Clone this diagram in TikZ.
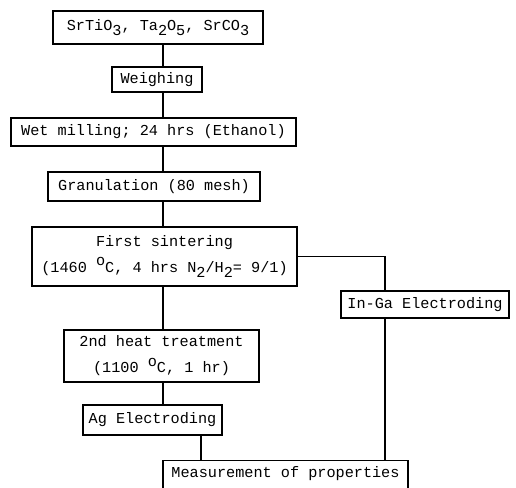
\documentclass[tikz,border=0pt]{standalone}
\usepackage{fontspec}
\setmainfont{Liberation Mono}
\newcommand{\lowr}[1]{\raisebox{-0.33em}{#1}}
\newcommand{\highr}[1]{\raisebox{0.45em}{#1}}
\begin{document}
\begin{tikzpicture}[x=1pt,y=-1pt,
  box/.style={draw, line width=1.1pt, inner sep=0pt, font=\fontsize{15.2}{26}\selectfont, align=center},
  link/.style={line width=1.1pt}]
\useasboundingbox (0,0) rectangle (516,487);
\fill[white] (0,0) rectangle (516,487);
\node[box, minimum width=210pt, minimum height=33pt] (src) at (158,27.5) {SrTiO\lowr{3}, Ta\lowr{2}O\lowr{5}, SrCO\lowr{3}};
\node[box, minimum width=90pt, minimum height=25pt] (weigh) at (157,79.5) {Weighing};
\node[box, minimum width=285pt, minimum height=28pt] (wet) at (153.5,132) {Wet milling; 24 hrs (Ethanol)};
\node[box, minimum width=212pt, minimum height=29pt] (gran) at (154,186.5) {Granulation (80 mesh)};
\node[box, minimum width=265pt, minimum height=59pt] (first) at (164.5,256.5) {First sintering\\(1460 \highr{o}C, 4 hrs N\lowr{2}/H\lowr{2}= 9/1)};
\node[box, minimum width=168pt, minimum height=27pt] (inga) at (425,304.5) {In-Ga Electroding};
\node[box, minimum width=195pt, minimum height=52pt] (heat) at (161.5,356) {2nd heat treatment\\(1100 \highr{o}C, 1 hr)};
\node[box, minimum width=139pt, minimum height=30pt] (ag) at (152.5,420) {Ag Electroding};
\node[box, minimum width=245pt, text height=17pt, text depth=23pt, anchor=north] (meas) at (285.5,460) {Measurement of properties};
\coordinate (spine) at (163,0);
\coordinate (agx) at (201,0);
\coordinate (rx) at (385,0);
\draw[link] (spine |- src.south) -- (spine |- weigh.north);
\draw[link] (spine |- weigh.south) -- (spine |- wet.north);
\draw[link] (spine |- wet.south) -- (spine |- gran.north);
\draw[link] (spine |- gran.south) -- (spine |- first.north);
\draw[link] (spine |- first.south) -- (spine |- heat.north);
\draw[link] (spine |- heat.south) -- (spine |- ag.north);
\draw[link] (agx |- ag.south) -- (agx |- meas.north);
\draw[link] (first.east) -| (rx |- inga.north);
\draw[link] (rx |- inga.south) -- (rx |- meas.north);
\end{tikzpicture}
\end{document}
